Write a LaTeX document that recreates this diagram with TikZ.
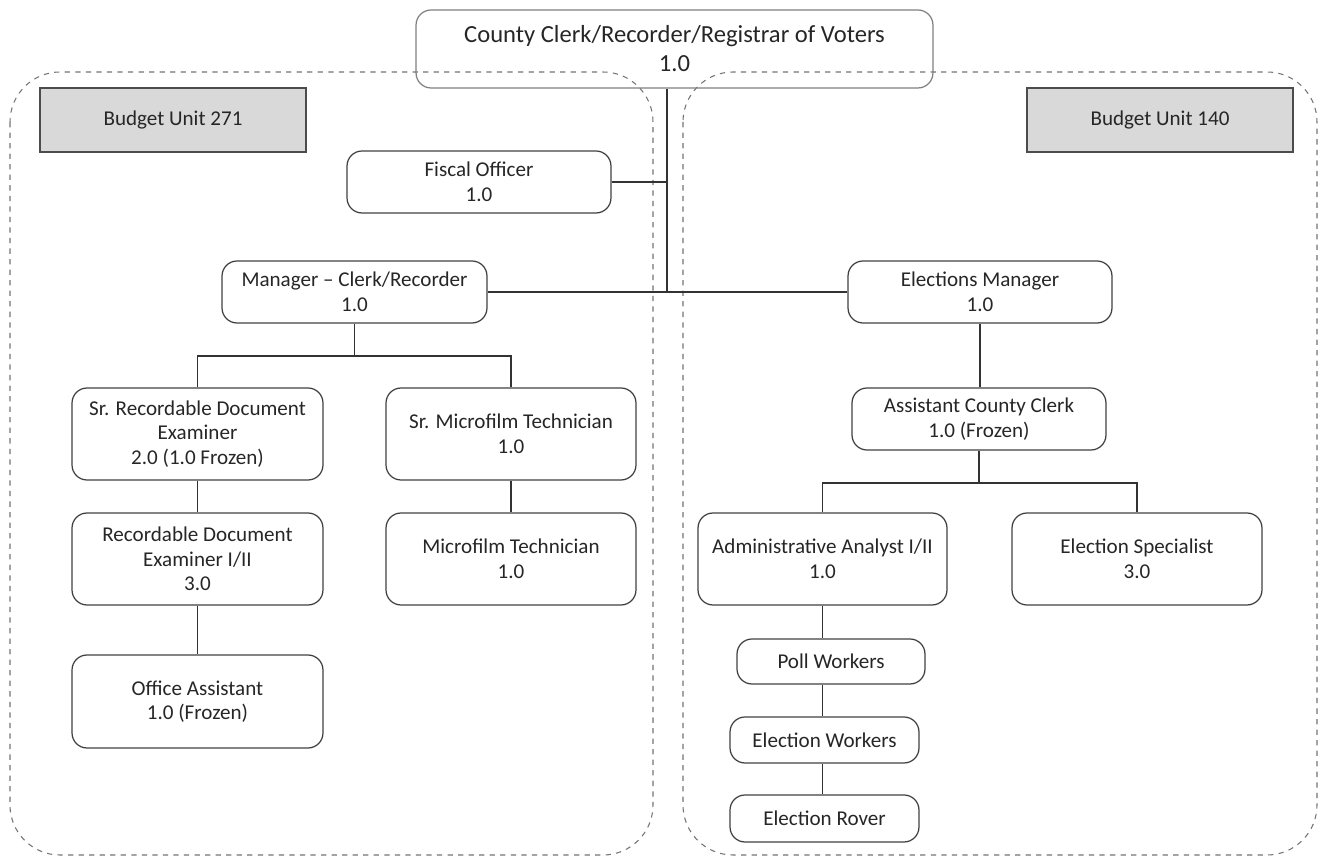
\documentclass[tikz,border=0pt]{standalone}
\usepackage{fontspec}
\setmainfont{Carlito}
\begin{document}
\begin{tikzpicture}[x=0.02cm,y=-0.02cm,
    post/.style={draw=black!75, line width=0.7pt, rounded corners=0.3cm, align=center,
        font=\fontsize{12}{14}\selectfont, text=black!85, inner sep=0pt},
    unit/.style={draw=black!70, fill=black!15, line width=0.9pt, text=black!85,
        font=\fontsize{12}{14}\selectfont, minimum width=5.32cm, minimum height=1.28cm},
    region/.style={draw=black!55, dashed, rounded corners=1cm, line width=0.6pt},
    link/.style={draw=black!80, line width=0.6pt}]
    \useasboundingbox (0,0) rectangle (1326,857);
    % budget unit regions
    \draw[region] (10,72) rectangle (653,855);
    \draw[region] (683,72) rectangle (1317,855);
    \node[unit] (bu271) at (173,120) {Budget Unit 271};
    \node[unit] (bu140) at (1160,120) {Budget Unit 140};
    % head
    \node[post, draw=black!50, font=\fontsize{14}{16.5}\selectfont, minimum width=10.34cm, minimum height=1.56cm]
        (clerk) at (674.5,49) {County Clerk/Recorder/Registrar of Voters\\1.0};
    \node[post, minimum width=5.28cm, minimum height=1.24cm] (fiscal) at (479,182) {Fiscal Officer\\1.0};
    \node[post, minimum width=5.3cm, minimum height=1.24cm] (mgr) at (354.5,292) {Manager -- Clerk/Recorder\\1.0};
    \node[post, minimum width=5.28cm, minimum height=1.24cm] (elecmgr) at (980,292) {Elections Manager\\1.0};
    % budget unit 271
    \node[post, minimum width=5.02cm, minimum height=1.84cm] (srdoc) at (197.5,434) {Sr. Recordable Document\\Examiner\\2.0 (1.0 Frozen)};
    \node[post, minimum width=5.0cm, minimum height=1.84cm] (srmicro) at (511,434) {Sr. Microfilm Technician\\1.0};
    \node[post, minimum width=5.02cm, minimum height=1.84cm] (recdoc) at (197.5,559) {Recordable Document\\Examiner I/II\\3.0};
    \node[post, minimum width=5.0cm, minimum height=1.84cm] (micro) at (511,559) {Microfilm Technician\\1.0};
    \node[post, minimum width=5.02cm, minimum height=1.86cm] (office) at (197.5,701.5) {Office Assistant\\1.0 (Frozen)};
    % budget unit 140
    \node[post, minimum width=5.08cm, minimum height=1.24cm] (asst) at (979,419) {Assistant County Clerk\\1.0 (Frozen)};
    \node[post, minimum width=4.98cm, minimum height=1.84cm] (analyst) at (822.5,559) {Administrative Analyst I/II\\1.0};
    \node[post, minimum width=5.0cm, minimum height=1.84cm] (spec) at (1137,559) {Election Specialist\\3.0};
    \node[post, minimum width=3.76cm, minimum height=0.9cm] (poll) at (831,661.5) {Poll Workers};
    \node[post, minimum width=3.78cm, minimum height=0.92cm] (workers) at (824.5,740) {Election Workers};
    \node[post, minimum width=3.78cm, minimum height=0.94cm] (rover) at (824.5,818.5) {Election Rover};
    % connectors
    \coordinate (hub) at (667,293);
    \coordinate (mgrbus) at (354.5,356);
    \coordinate (asstbus) at (979,483);
    \draw[link] (clerk.south -| hub) -- (hub);
    \draw[link] (fiscal.east) -- (fiscal.east -| hub);
    \draw[link] (mgr.east) -- (elecmgr.west);
    \draw[link] (mgr.south) -- (mgrbus);
    \draw[link] (srdoc.north) |- (mgrbus) -| (srmicro.north);
    \draw[link] (srdoc.south) -- (recdoc.north);
    \draw[link] (recdoc.south) -- (office.north);
    \draw[link] (srmicro.south) -- (micro.north);
    \draw[link] (elecmgr.south) -- (elecmgr.south |- asst.north);
    \draw[link] (asst.south) -- (asstbus);
    \draw[link] (analyst.north) |- (asstbus) -| (spec.north);
    \draw[link] (analyst.south) -- (analyst.south |- poll.north);
    \draw[link] (poll.south -| analyst.south) -- (analyst.south |- workers.north);
    \draw[link] (workers.south -| analyst.south) -- (analyst.south |- rover.north);
\end{tikzpicture}
\end{document}
